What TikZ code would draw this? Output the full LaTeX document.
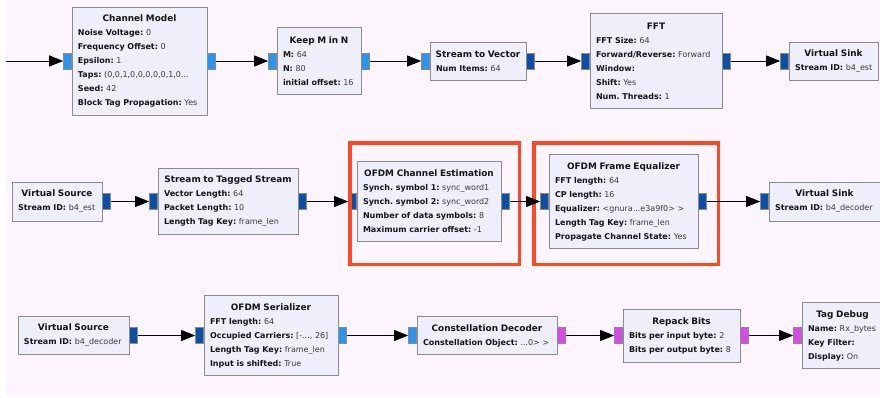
\documentclass[tikz,border=0pt]{standalone}
\usepackage{fontspec}
\setmainfont{DejaVu Sans}
\usetikzlibrary{arrows.meta}
\definecolor{bgc}{HTML}{FCF5FD}
\definecolor{blkfill}{HTML}{EFEFFB}
\definecolor{blkborder}{HTML}{8C8C8C}
\definecolor{keyc}{HTML}{151515}
\definecolor{valc}{HTML}{3A3A3A}
\definecolor{lb}{HTML}{2A95EE}
\definecolor{db}{HTML}{0B50A6}
\definecolor{mg}{HTML}{D84AE8}
\definecolor{hl}{HTML}{FB4B1E}
\frenchspacing
\newcommand\gtitle[1]{\makebox[\hsize][c]{\fontsize{8.9bp}{14bp}\selectfont\bfseries\color{keyc}#1}}
\newcommand\gkv[2]{\mbox{{\bfseries\color{keyc}#1:}\ #2}}
\begin{document}
\begin{tikzpicture}[x=1bp,y=-1bp,
  blk/.style={draw=blkborder, fill=blkfill, line width=0.9bp, inner xsep=6bp, inner ysep=0pt,
    align=left, text=valc, font=\fontsize{8bp}{14bp}\selectfont\frenchspacing},
  port/.style={draw=blkborder, line width=0.4bp, minimum width=8bp, minimum height=16bp, inner sep=0pt},
  pl/.style={port, fill=lb},
  pd/.style={port, fill=db},
  pm/.style={port, fill=mg},
  arr/.style={draw=black, line width=0.9bp, -{Triangle[length=14bp,width=11bp]}},
  hlbox/.style={draw=hl, line width=3.5bp}]
\useasboundingbox (0,0) rectangle (880,397);
\clip (0,0) rectangle (880,397);
\fill[white] (0,0) rectangle (880,397);
\fill[bgc] (6,0) rectangle (880,396);

% ---------- row 1 ----------
\node[blk, text width=123bp, minimum height=108bp] (cm) at (139.5,61) {\gtitle{Channel Model}\\
  \gkv{Noise Voltage}{0}\\ \gkv{Frequency Offset}{0}\\ \gkv{Epsilon}{1}\\
  \gkv{Taps}{(0,0,1,0,0,0,0,0,1,0...}\\ \gkv{Seed}{42}\\ \gkv{Block Tag Propagation}{Yes}};
\node[blk, text width=72bp, minimum height=67bp] (km) at (319,61) {\gtitle{Keep M in N}\\
  \gkv{M}{64}\\ \gkv{N}{80}\\ \gkv{initial offset}{16}};
\node[blk, text width=84bp, minimum height=38bp] (sv) at (478,61) {\gtitle{Stream to Vector}\\
  \gkv{Num Items}{64}};
\node[blk, text width=120bp, minimum height=95bp] (fft) at (656,61) {\gtitle{FFT}\\
  \gkv{FFT Size}{64}\\ \gkv{Forward/Reverse}{Forward}\\ \gkv{Window}{}\\ \gkv{Shift}{Yes}\\
  \gkv{Num. Threads}{1}};
\node[blk, text width=77bp, minimum height=38bp] (vk1) at (833.5,61) {\gtitle{Virtual Sink}\\
  \gkv{Stream ID}{b4\_est}};

% ---------- row 2 ----------
\node[blk, text width=78bp, minimum height=39bp] (vs2) at (57,201.5) {\gtitle{Virtual Source}\\
  \gkv{Stream ID}{b4\_est}};
\node[blk, text width=128bp, minimum height=66bp] (sts) at (228,201.5) {\gtitle{Stream to Tagged Stream}\\
  \gkv{Vector Length}{64}\\ \gkv{Packet Length}{10}\\ \gkv{Length Tag Key}{frame\_len}};
\node[blk, text width=132bp, minimum height=80bp] (ce) at (429,201.5) {\gtitle{OFDM Channel Estimation}\\
  \gkv{Synch. symbol 1}{sync\_word1}\\ \gkv{Synch. symbol 2}{sync\_word2}\\
  \gkv{Number of data symbols}{8}\\ \gkv{Maximum carrier offset}{-1}};
\node[blk, text width=137bp, minimum height=94bp] (fe) at (623.5,201.5) {\gtitle{OFDM Frame Equalizer}\\
  \gkv{FFT length}{64}\\ \gkv{CP length}{16}\\ \gkv{Equalizer}{<gnura...e3a9f0> >}\\
  \gkv{Length Tag Key}{frame\_len}\\ \gkv{Propagate Channel State}{Yes}};
\node[blk, text width=99bp, minimum height=39bp] (vk2) at (824.5,201.5) {\gtitle{Virtual Sink}\\
  \gkv{Stream ID}{b4\_decoder}};

% ---------- row 3 ----------
\node[blk, text width=99bp, minimum height=38bp] (vs3) at (73.5,335.5) {\gtitle{Virtual Source}\\
  \gkv{Stream ID}{b4\_decoder}};
\node[blk, text width=122bp, minimum height=80bp] (ser) at (271,335.5) {\gtitle{OFDM Serializer}\\
  \gkv{FFT length}{64}\\ \gkv{Occupied Carriers}{[-..., 26]}\\ \gkv{Length Tag Key}{frame\_len}\\
  \gkv{Input is shifted}{True}};
\node[blk, text width=128bp, minimum height=38bp] (cd) at (487,335.5) {\gtitle{Constellation Decoder}\\
  \gkv{Constellation Object}{...0> >}};
\node[blk, text width=105bp, minimum height=53bp] (rb) at (681.5,335.5) {\gtitle{Repack Bits}\\
  \gkv{Bits per input byte}{2}\\ \gkv{Bits per output byte}{8}};
\node[blk, text width=69bp, minimum height=66bp] (td) at (842.5,335.5) {\gtitle{Tag Debug}\\
  \gkv{Name}{Rx\_bytes}\\ \gkv{Key Filter}{}\\ \gkv{Display}{On}};

% ---------- ports ----------
\node[pl, anchor=east] (cm-i) at (cm.west) {};
\node[pl, anchor=west] (cm-o) at (cm.east) {};
\node[pl, anchor=east] (km-i) at (km.west) {};
\node[pl, anchor=west] (km-o) at (km.east) {};
\node[pl, anchor=east] (sv-i) at (sv.west) {};
\node[pd, anchor=west] (sv-o) at (sv.east) {};
\node[pd, anchor=east] (fft-i) at (fft.west) {};
\node[pd, anchor=west] (fft-o) at (fft.east) {};
\node[pd, anchor=east] (vk1-i) at (vk1.west) {};

\node[pd, anchor=west] (vs2-o) at (vs2.east) {};
\node[pd, anchor=east] (sts-i) at (sts.west) {};
\node[pd, anchor=west] (sts-o) at (sts.east) {};
\node[pd, anchor=east] (ce-i) at (ce.west) {};
\node[pd, anchor=west] (ce-o) at (ce.east) {};
\node[pd, anchor=east] (fe-i) at (fe.west) {};
\node[pd, anchor=west] (fe-o) at (fe.east) {};
\node[pd, anchor=east] (vk2-i) at (vk2.west) {};

\node[pd, anchor=west] (vs3-o) at (vs3.east) {};
\node[pd, anchor=east] (ser-i) at (ser.west) {};
\node[pl, anchor=west] (ser-o) at (ser.east) {};
\node[pl, anchor=east] (cd-i) at (cd.west) {};
\node[pm, anchor=west] (cd-o) at (cd.east) {};
\node[pm, anchor=east] (rb-i) at (rb.west) {};
\node[pm, anchor=west] (rb-o) at (rb.east) {};
\node[pm, anchor=east] (td-i) at (td.west) {};

% ---------- highlight boxes ----------
\draw[hlbox] (350,143) rectangle (519.5,264.7);
\draw[hlbox] (534,143) rectangle (718.7,264.7);

% ---------- connectors ----------
\coordinate (start) at (6,61);
\draw[arr] (start) -- (cm-i.west);
\draw[arr] (cm-o.east) -- (km-i.west);
\draw[arr] (km-o.east) -- (sv-i.west);
\draw[arr] (sv-o.east) -- (fft-i.west);
\draw[arr] (fft-o.east) -- (vk1-i.west);
\draw[arr] (vs2-o.east) -- (sts-i.west);
\draw[arr] (sts-o.east) -- (ce-i.west);
\draw[arr] (ce-o.east) -- (fe-i.west);
\draw[arr] (fe-o.east) -- (vk2-i.west);
\draw[arr] (vs3-o.east) -- (ser-i.west);
\draw[arr] (ser-o.east) -- (cd-i.west);
\draw[arr] (cd-o.east) -- (rb-i.west);
\draw[arr] (rb-o.east) -- (td-i.west);
\end{tikzpicture}
\end{document}
